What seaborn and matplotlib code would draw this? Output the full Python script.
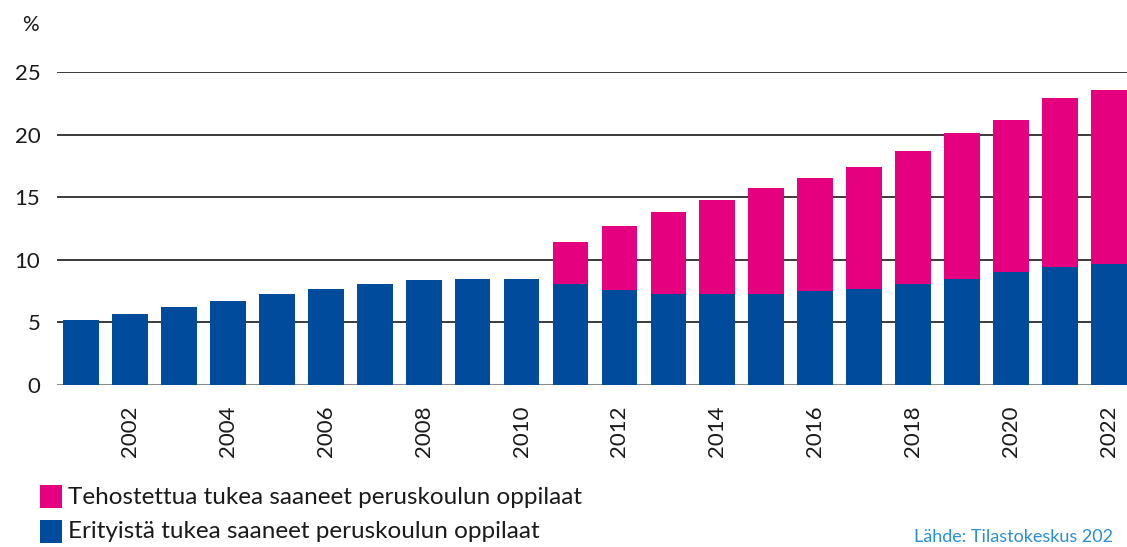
import numpy as np
import pandas as pd
import matplotlib
matplotlib.use("Agg")
import matplotlib.pyplot as plt
from matplotlib.patches import Rectangle
import seaborn as sns

# ======================================
# DATA
# ======================================

years = list(range(2001, 2023))

# Erityistä tukea (blue, bottom)
special = [5.2, 5.7, 6.2, 6.7, 7.3, 7.7, 8.1, 8.4, 8.5, 8.5, 8.1,
           7.6, 7.3, 7.3, 7.3, 7.5, 7.7, 8.1, 8.5, 9.0, 9.4, 9.7]

# Totals incl. tehostettu tuki (pink, on top) - pink starts 2011
total = [5.2, 5.7, 6.2, 6.7, 7.3, 7.7, 8.1, 8.4, 8.5, 8.5, 11.4,
         12.7, 13.8, 14.8, 15.7, 16.5, 17.4, 18.7, 20.1, 21.2, 22.9, 23.6]

yticks = [0, 5, 10, 15, 20, 25]
label_years = [str(y) for y in years if y % 2 == 0]

legend_labels = ["Tehostettua tukea saaneet peruskoulun oppilaat",
                 "Erityistä tukea saaneet peruskoulun oppilaat"]

PINK = "#E4007E"
BLUE = "#004B9B"

df = pd.DataFrame({"year": [str(y) for y in years],
                   "special": special,
                   "total": total})

# ======================================
# PLOT
# ======================================

sns.set_style("white")
plt.rcParams["font.family"] = ["Lato", "DejaVu Sans"]

fig = plt.figure(figsize=(11.27, 5.47), dpi=100)
ax = fig.add_axes([0.0506, 0.2962, 0.9494, 0.5722])

for yv in yticks[1:]:
    ax.axhline(yv, color="#2b2b2b", lw=1.3, zorder=0)
ax.axhline(0, color="#8a8a8a", lw=2.2, zorder=0)

sns.barplot(data=df, x="year", y="total", color=PINK, width=0.73,
            saturation=1, linewidth=0, ax=ax, zorder=2)
sns.barplot(data=df, x="year", y="special", color=BLUE, width=0.73,
            saturation=1, linewidth=0, ax=ax, zorder=3)

ax.set_xlim(-0.49, 21.37)
ax.set_ylim(0, 25)
ax.set_yticks(yticks)
ax.set_yticklabels([str(v) for v in yticks], fontsize=16, color="#1a1a1a")
ax.set_xticks([i for i, y in enumerate(years) if y % 2 == 0])
ax.set_xticklabels(label_years, rotation=90, fontsize=16, color="#1a1a1a",
                   va="top")
ax.tick_params(axis="both", length=0)
ax.tick_params(axis="y", pad=12)
ax.tick_params(axis="x", pad=15)
ax.set_xlabel("")
ax.set_ylabel("")
sns.despine(ax=ax, left=True, bottom=True)

fig.text(0.027, 0.955, "%", fontsize=15, color="#1a1a1a", ha="center", va="center")

# legend
for i, (lab, col) in enumerate(zip(legend_labels, [PINK, BLUE])):
    y0 = 1 - (508 + i * 35) / 547
    fig.add_artist(Rectangle((40 / 1127, y0), 22 / 1127, 23 / 547,
                             transform=fig.transFigure, color=col, lw=0))
    fig.text(68 / 1127, y0 + 11 / 547, lab, fontsize=17.5, color="#1a1a1a",
             va="center", ha="left")

fig.text(1113 / 1127, 1 - 537 / 547, "Lähde: Tilastokeskus 202", fontsize=13,
         color="#2a8fd4", va="center", ha="right")

plt.savefig("out.png", dpi=100)
plt.close()
